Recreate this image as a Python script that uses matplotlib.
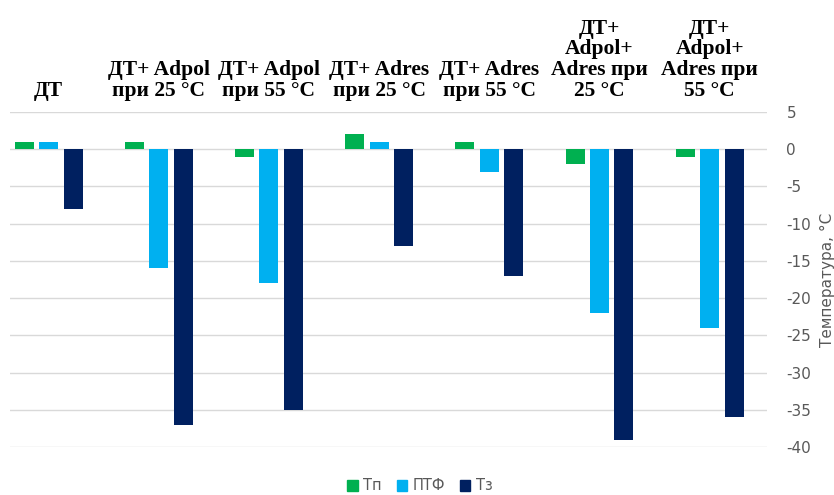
import matplotlib
matplotlib.use("Agg")
import matplotlib.pyplot as plt
from matplotlib.patches import Patch
import numpy as np

plt.rcParams["axes.unicode_minus"] = False

categories = ["ДТ", "ДТ+ Adpol\nпри 25 °C", "ДТ+ Adpol\nпри 55 °C",
              "ДТ+ Adres\nпри 25 °C", "ДТ+ Adres\nпри 55 °C",
              "ДТ+\nAdpol+\nAdres при\n25 °C", "ДТ+\nAdpol+\nAdres при\n55 °C"]
series_names = ["Тп", "ПТФ", "Тз"]
tp = [1, 1, -1, 2, 1, -2, -1]
ptf = [1, -16, -18, 1, -3, -22, -24]
tz = [-8, -37, -35, -13, -17, -39, -36]
colors = ["#00B050", "#00B0F0", "#002060"]
yticks = [5, 0, -5, -10, -15, -20, -25, -30, -35, -40]

fig = plt.figure(figsize=(8.34, 4.95), dpi=100)
ax = fig.add_axes([10 / 834, 1 - 447 / 495, 757 / 834, 335 / 495])

x = np.arange(len(categories))
step, width = 0.222, 0.172
for k, (vals, c) in enumerate(zip([tp, ptf, tz], colors)):
    ax.bar(x + (k - 1) * step, vals, width, color=c, zorder=3)

ax.set_xlim(-0.35, 6.52)
ax.set_ylim(-40, 5)
ax.set_yticks(yticks)
ax.yaxis.tick_right()
ax.tick_params(axis="y", length=0, pad=14, labelsize=11, labelcolor="#595959")
ax.grid(axis="y", color="#D9D9D9", lw=1, zorder=0)
for s in ax.spines.values():
    s.set_visible(False)

ax.xaxis.tick_top()
ax.set_xticks(x)
ax.set_xticklabels(categories, fontfamily="Liberation Serif", fontweight="bold",
                   fontsize=15.5, linespacing=1.05)
ax.tick_params(axis="x", length=0, pad=8)

fig.text(827 / 834, 1 - 280 / 495, "Температура, °С", rotation=90, ha="center",
         va="center", fontsize=11, color="#595959")

handles = [Patch(color=c, label=n) for c, n in zip(colors, series_names)]
fig.legend(handles=handles, loc="center", bbox_to_anchor=(420 / 834, 1 - 486 / 495),
           ncol=3, frameon=False, fontsize=10.5, labelcolor="#595959",
           handlelength=0.7, handleheight=0.7, handletextpad=0.4, columnspacing=1.0)

fig.savefig("out.png", dpi=100)
